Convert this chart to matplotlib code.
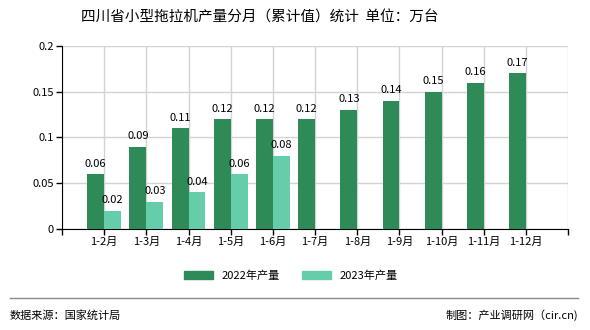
import matplotlib
matplotlib.use('Agg')
import matplotlib.pyplot as plt
from matplotlib.patches import Patch
from matplotlib.lines import Line2D

plt.rcParams['font.family'] = ['Noto Sans CJK SC', 'DejaVu Sans']

months = ['1-2月', '1-3月', '1-4月', '1-5月', '1-6月', '1-7月', '1-8月',
          '1-9月', '1-10月', '1-11月', '1-12月']
prod_2022 = [0.06, 0.09, 0.11, 0.12, 0.12, 0.12, 0.13, 0.14, 0.15, 0.16, 0.17]
prod_2023 = [0.02, 0.03, 0.04, 0.06, 0.08]
yticks = [0, 0.05, 0.1, 0.15, 0.2]
ytick_labels = ['0', '0.05', '0.1', '0.15', '0.2']

c22 = '#2e8b57'
c23 = '#66cdaa'
w = 0.4

fig = plt.figure(figsize=(5.9, 3.3), dpi=100)
ax = fig.add_axes([0.105, 0.306, 0.858, 0.555])

x22 = [i + 1 for i in range(len(prod_2022))]
x23 = [i + 1 for i in range(len(prod_2023))]
ax.bar(x22, prod_2022, width=-w, align='edge', color=c22, zorder=3)
ax.bar(x23, prod_2023, width=w, align='edge', color=c23, zorder=3)

for x, v in zip(x22, prod_2022):
    ax.text(x - w / 2, v + 0.006, f'{v:.2f}', ha='center', va='bottom', fontsize=8)
for x, v in zip(x23, prod_2023):
    ax.text(x + w / 2, v + 0.006, f'{v:.2f}', ha='center', va='bottom', fontsize=8)

ax.set_xlim(0, 12)
ax.set_ylim(0, 0.2)
ax.set_xticks(range(13))
ax.set_xticklabels([''] + months + [''], fontsize=8)
ax.set_yticks(yticks)
ax.set_yticklabels(ytick_labels, fontsize=8)
ax.tick_params(length=4, width=1, color='black', pad=2)
ax.grid(True, color='#d3d3d3', linewidth=1, zorder=0)
for s in ['top', 'right']:
    ax.spines[s].set_visible(False)
for s in ['left', 'bottom']:
    ax.spines[s].set_color('black')

fig.text(0.44, 0.948, '四川省小型拖拉机产量分月（累计值）统计  单位：万台',
         ha='center', va='center', fontsize=10.5)

handles = [Patch(color=c22, label='2022年产量'), Patch(color=c23, label='2023年产量')]
fig.legend(handles=handles, loc='center', bbox_to_anchor=(0.493, 0.165), ncol=2,
           frameon=False, fontsize=8, handlelength=2.6, handleheight=0.8,
           columnspacing=2.0)

fig.add_artist(Line2D([0.017, 0.98], [0.097, 0.097], color='#888888', linewidth=1))
fig.text(0.017, 0.045, '数据来源：国家统计局', ha='left', va='center', fontsize=8)
fig.text(0.98, 0.045, '制图：产业调研网（cir.cn)', ha='right', va='center', fontsize=8)

fig.savefig('out.png', dpi=100)
